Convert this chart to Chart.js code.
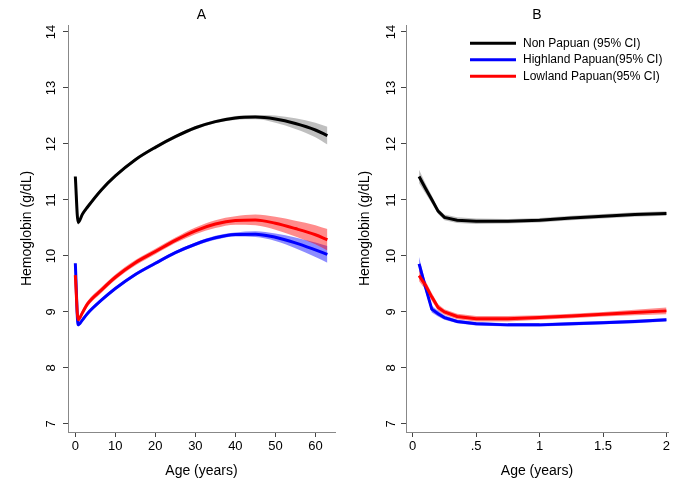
<!DOCTYPE html>
<html>
<head>
<meta charset="utf-8">
<script src="https://cdn.jsdelivr.net/npm/chart.js@4.4.1/dist/chart.umd.min.js"></script>
<style>
  body { margin: 0; background: #fff; }
  #wrap { position: relative; width: 683px; height: 483px; }
  canvas { position: absolute; top: 0; }
  #chartA { left: 0; }
  #chartB { left: 340px; }
</style>
</head>
<body>
<div id="wrap">
  <canvas id="chartA" width="340" height="483"></canvas>
  <canvas id="chartB" width="343" height="483"></canvas>
</div>
<script>
// Panel A - whole age range (years)
const agesA = [0, 0.7, 1.8, 3, 6.5, 10, 15, 20, 25, 30, 35, 40, 45, 50, 55, 60, 63];
const nonPapuanA    = [11.42, 10.60, 10.75, 10.87, 11.18, 11.43, 11.72, 11.94, 12.13, 12.29, 12.40, 12.465, 12.48, 12.445, 12.365, 12.25, 12.15];
const nonPapuanA_lo = [11.37, 10.56, 10.72, 10.84, 11.15, 11.40, 11.69, 11.91, 12.10, 12.26, 12.37, 12.43, 12.44, 12.38, 12.27, 12.12, 11.99];
const nonPapuanA_hi = [11.47, 10.64, 10.78, 10.90, 11.21, 11.46, 11.75, 11.97, 12.16, 12.32, 12.43, 12.50, 12.52, 12.51, 12.46, 12.38, 12.31];
const highlandA     = [9.87, 8.77, 8.86, 8.97, 9.21, 9.42, 9.67, 9.87, 10.06, 10.21, 10.325, 10.385, 10.39, 10.335, 10.235, 10.11, 10.03];
const highlandA_lo  = [9.83, 8.74, 8.83, 8.94, 9.18, 9.39, 9.64, 9.84, 10.03, 10.18, 10.29, 10.35, 10.34, 10.27, 10.14, 9.98, 9.88];
const highlandA_hi  = [9.91, 8.80, 8.89, 9.00, 9.24, 9.45, 9.70, 9.90, 10.09, 10.24, 10.36, 10.42, 10.44, 10.40, 10.33, 10.24, 10.18];
const lowlandA      = [9.66, 8.86, 8.99, 9.14, 9.39, 9.62, 9.88, 10.08, 10.28, 10.45, 10.57, 10.635, 10.645, 10.585, 10.49, 10.38, 10.29];
const lowlandA_lo   = [9.60, 8.81, 8.94, 9.09, 9.34, 9.57, 9.83, 10.03, 10.23, 10.39, 10.50, 10.56, 10.55, 10.47, 10.35, 10.21, 10.10];
const lowlandA_hi   = [9.72, 8.91, 9.04, 9.19, 9.44, 9.67, 9.93, 10.13, 10.33, 10.51, 10.64, 10.71, 10.74, 10.70, 10.63, 10.55, 10.48];

// Panel B - first two years
const agesB = [0.05, 0.1, 0.15, 0.2, 0.25, 0.35, 0.5, 0.75, 1, 1.25, 1.5, 1.75, 2];
const nonPapuanB    = [11.42, 11.21, 11.01, 10.80, 10.69, 10.64, 10.62, 10.62, 10.64, 10.68, 10.71, 10.74, 10.76];
const nonPapuanB_lo = [11.30, 11.12, 10.94, 10.75, 10.64, 10.59, 10.57, 10.58, 10.60, 10.64, 10.67, 10.70, 10.72];
const nonPapuanB_hi = [11.54, 11.30, 11.08, 10.85, 10.74, 10.69, 10.67, 10.66, 10.68, 10.72, 10.75, 10.78, 10.80];
const highlandB     = [9.86, 9.45, 9.05, 8.97, 8.90, 8.83, 8.79, 8.77, 8.77, 8.79, 8.81, 8.83, 8.86];
const highlandB_lo  = [9.74, 9.37, 8.99, 8.92, 8.86, 8.80, 8.76, 8.74, 8.74, 8.76, 8.78, 8.80, 8.83];
const highlandB_hi  = [9.98, 9.53, 9.11, 9.02, 8.94, 8.86, 8.82, 8.80, 8.80, 8.82, 8.84, 8.86, 8.89];
const lowlandB      = [9.65, 9.48, 9.27, 9.08, 9.00, 8.92, 8.88, 8.88, 8.90, 8.93, 8.96, 8.99, 9.02];
const lowlandB_lo   = [9.55, 9.40, 9.20, 9.02, 8.95, 8.87, 8.83, 8.83, 8.86, 8.89, 8.92, 8.94, 8.96];
const lowlandB_hi   = [9.75, 9.56, 9.34, 9.14, 9.05, 8.97, 8.93, 8.93, 8.94, 8.97, 9.00, 9.04, 9.08];

const groupLabels = ['Non Papuan (95% CI)', 'Highland Papuan(95% CI)', 'Lowland Papuan(95% CI)'];

const FONT = 'Liberation Sans, Arial, sans-serif';

function toPoints(xs, ys) {
  return xs.map((x, i) => ({ x: x, y: ys[i] }));
}

// one group = estimate line + shaded CI (upper filled down to lower)
function group(xs, mid, lo, hi, label, color, band, order, smooth) {
  const curve = smooth ? { tension: 0.4, cubicInterpolationMode: 'monotone' } : { tension: 0 };
  return [
    Object.assign({ label: label, data: toPoints(xs, mid), borderColor: color, backgroundColor: color,
      borderWidth: 3, pointRadius: 0, fill: false, order: order }, curve),
    Object.assign({ label: '', data: toPoints(xs, hi), borderColor: 'rgba(0,0,0,0)', borderWidth: 0,
      backgroundColor: band, pointRadius: 0, fill: '+1', order: 10 + order }, curve),
    Object.assign({ label: '', data: toPoints(xs, lo), borderColor: 'rgba(0,0,0,0)', borderWidth: 0,
      pointRadius: 0, fill: false, order: 10 + order }, curve)
  ];
}

function scales(cfg) {
  const tickFont = { family: FONT, size: 13 };
  const titleFont = { family: FONT, size: 14 };
  const grid = { drawOnChartArea: false, tickLength: 5, tickColor: '#444' };
  const border = { color: '#888', width: 1 };
  return {
    x: {
      type: 'linear', min: cfg.xMin, max: cfg.xMax,
      ticks: { stepSize: cfg.xStep, includeBounds: false, color: '#000', font: tickFont, padding: 2,
        maxRotation: 0, callback: cfg.xFormat },
      grid: grid, border: border,
      title: { display: true, text: 'Age (years)', color: '#000', font: titleFont, padding: { top: 0, bottom: 3.6 } },
      afterFit: s => { s.height = 51; }
    },
    y: {
      min: 6.857, max: 14.125,
      ticks: { stepSize: 1, includeBounds: false, color: '#000', font: tickFont, padding: cfg.yTickPad,
        minRotation: 90, maxRotation: 90, crossAlign: 'center' },
      grid: grid, border: border,
      title: { display: true, text: 'Hemoglobin (g/dL)', color: '#000', font: titleFont, padding: { top: cfg.yTitlePad, bottom: 0 } },
      afterFit: s => { s.width = cfg.yWidth; }
    }
  };
}

// legend drawn inside the plot area, Stata style
const insideLegend = {
  id: 'insideLegend',
  afterDatasetsDraw(chart, args, opts) {
    const ctx = chart.ctx;
    const items = chart.data.datasets.filter(d => d.label);
    ctx.save();
    ctx.font = opts.fontSize + 'px ' + FONT;
    ctx.textBaseline = 'middle';
    items.forEach((d, i) => {
      const y = opts.y + i * opts.rowHeight;
      ctx.strokeStyle = d.borderColor;
      ctx.lineWidth = 3;
      ctx.beginPath();
      ctx.moveTo(opts.x, y);
      ctx.lineTo(opts.x + opts.lineLength, y);
      ctx.stroke();
      ctx.fillStyle = '#000';
      ctx.fillText(d.label, opts.x + opts.lineLength + opts.gap, y);
    });
    ctx.restore();
  }
};

function panelTitle(text) {
  return { display: true, text: text, fullSize: false, color: '#000',
    font: { family: FONT, size: 14, weight: 'normal' }, padding: { top: 6.6, bottom: 1.6 } };
}

const datasetsA = [].concat(
  group(agesA, nonPapuanA, nonPapuanA_lo, nonPapuanA_hi, groupLabels[0], '#000000', 'rgba(0,0,0,0.25)', 2, true),
  group(agesA, highlandA, highlandA_lo, highlandA_hi, groupLabels[1], '#0000ff', 'rgba(0,0,255,0.45)', 1, true),
  group(agesA, lowlandA, lowlandA_lo, lowlandA_hi, groupLabels[2], '#ff0000', 'rgba(255,0,0,0.45)', 0, true)
);

const datasetsB = [].concat(
  group(agesB, nonPapuanB, nonPapuanB_lo, nonPapuanB_hi, groupLabels[0], '#000000', 'rgba(0,0,0,0.25)', 2, false),
  group(agesB, highlandB, highlandB_lo, highlandB_hi, groupLabels[1], '#0000ff', 'rgba(0,0,255,0.45)', 1, false),
  group(agesB, lowlandB, lowlandB_lo, lowlandB_hi, groupLabels[2], '#ff0000', 'rgba(255,0,0,0.45)', 0, false)
);

new Chart(document.getElementById('chartA'), {
  type: 'line',
  data: { datasets: datasetsA },
  options: {
    responsive: false,
    animation: false,
    layout: { padding: { left: 0, right: 5, top: 0, bottom: 0 } },
    plugins: { legend: { display: false }, tooltip: { enabled: false }, title: panelTitle('A') },
    scales: scales({ xMin: -1.83, xMax: 64.9, xStep: 10, xFormat: v => String(v),
      yWidth: 68, yTickPad: 4, yTitlePad: 18.6 })
  }
});

new Chart(document.getElementById('chartB'), {
  type: 'line',
  data: { datasets: datasetsB },
  plugins: [insideLegend],
  options: {
    responsive: false,
    animation: false,
    layout: { padding: { left: 0, right: 15, top: 0, bottom: 0 } },
    plugins: {
      legend: { display: false }, tooltip: { enabled: false }, title: panelTitle('B'),
      insideLegend: { x: 130, y: 43.3, rowHeight: 16.5, lineLength: 46, gap: 7, fontSize: 12 }
    },
    scales: scales({ xMin: -0.053, xMax: 2.012, xStep: 0.5, xFormat: v => String(v).replace(/^0\./, '.'),
      yWidth: 66, yTickPad: 2, yTitlePad: 16.6 })
  }
});
</script>
</body>
</html>
